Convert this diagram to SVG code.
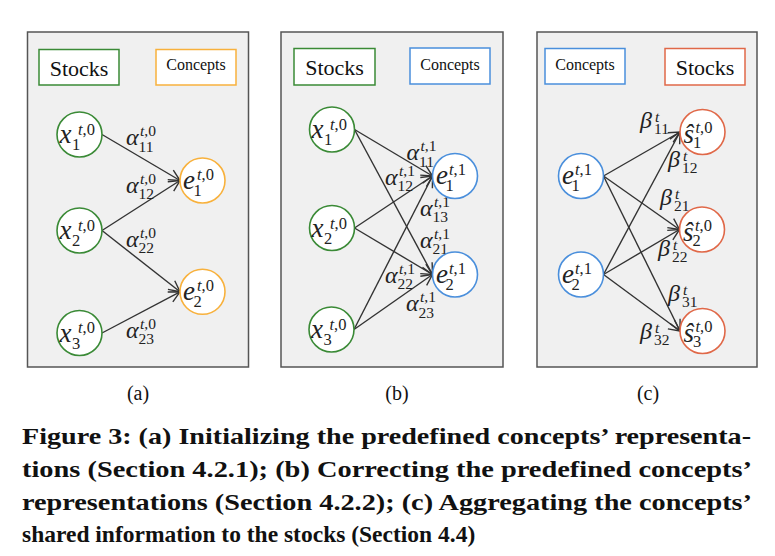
<svg xmlns="http://www.w3.org/2000/svg" width="775" height="556" viewBox="0 0 775 556">
<style>
.frame{fill:#f0f0f0;stroke:#555;stroke-width:1.5}
.box{fill:#fff;stroke-width:1.5}
.g{stroke:#3a8a36}.o{stroke:#f8b13c}.b{stroke:#4a8fdc}.r{stroke:#e06848}
.nd{fill:#fff;stroke-width:1.6}
.hd1{font-family:"Liberation Serif",serif;font-size:22px;fill:#111;text-anchor:middle}
.hd2{font-family:"Liberation Serif",serif;font-size:16px;fill:#111;text-anchor:middle}
.m{font-family:"Liberation Serif",serif;font-style:italic;font-size:27px;fill:#222}
.ms{font-size:16.5px}
.l{font-family:"Liberation Serif",serif;font-style:italic;font-size:24px;fill:#222}
.ls{font-size:15.5px}
.n{font-style:normal}
.e line{stroke:#333;stroke-width:1.4;marker-end:url(#ah)}
.cap{font-family:"Liberation Serif",serif;font-size:20px;fill:#111;text-anchor:middle}
.fig{font-family:"Liberation Serif",serif;font-weight:bold;font-size:23.5px;fill:#111}
</style>
<defs>
<marker id="ah" markerUnits="userSpaceOnUse" markerWidth="14" markerHeight="14" viewBox="-1 -7 14 14" refX="11" refY="0" orient="auto">
<path d="M0,-5.5 L11,0 L0,5.5" fill="none" stroke="#333" stroke-width="1.4"/>
</marker>
</defs>

<g id="panel-a">
<rect class="frame" x="27.5" y="32" width="221" height="335"/>
<g id="a-stocks-label"><rect class="box g" x="39" y="49.5" width="80" height="35.5"/><text class="hd1" x="79" y="75.5">Stocks</text></g>
<g id="a-concepts-label"><rect class="box o" x="156" y="49.5" width="80" height="35.5"/><text class="hd2" x="196" y="70">Concepts</text></g>
</g>
<g id="panel-b">
<rect class="frame" x="281" y="32" width="222" height="335"/>
<g id="b-stocks-label"><rect class="box g" x="294" y="48.5" width="81" height="36.5"/><text class="hd1" x="334.5" y="75">Stocks</text></g>
<g id="b-concepts-label"><rect class="box b" x="410" y="48" width="80" height="36"/><text class="hd2" x="450" y="69.5">Concepts</text></g>
</g>
<g id="panel-c">
<rect class="frame" x="537" y="32" width="220" height="335"/>
<g id="c-concepts-label"><rect class="box b" x="545" y="48.5" width="80" height="35.5"/><text class="hd2" x="585" y="69.5">Concepts</text></g>
<g id="c-stocks-label"><rect class="box r" x="665" y="48.5" width="80" height="36.5"/><text class="hd1" x="705" y="75">Stocks</text></g>
</g>

<g id="connectors" class="e">
<line x1="102" y1="134.5" x2="180" y2="180.5"/>
<line x1="102" y1="230.5" x2="180" y2="180.5"/>
<line x1="102" y1="230.5" x2="180" y2="291.8"/>
<line x1="102" y1="333" x2="180" y2="291.8"/>
<line x1="354.5" y1="129.5" x2="432.5" y2="176"/>
<line x1="354.5" y1="129.5" x2="432.5" y2="274.5"/>
<line x1="354.5" y1="228" x2="432.5" y2="176"/>
<line x1="354.5" y1="228" x2="432.5" y2="274.5"/>
<line x1="354" y1="329.5" x2="432.5" y2="176"/>
<line x1="354" y1="329.5" x2="432.5" y2="274.5"/>
<line x1="603.5" y1="176" x2="680" y2="132"/>
<line x1="603.5" y1="176" x2="679.5" y2="229.5"/>
<line x1="603.5" y1="176" x2="680" y2="331"/>
<line x1="603.5" y1="274.5" x2="680" y2="132"/>
<line x1="603.5" y1="274.5" x2="679.5" y2="229.5"/>
<line x1="603.5" y1="274.5" x2="680" y2="331"/>
</g>

<g id="edge-labels">
<text class="l" x="126" y="145">α<tspan class="ls" x="140" y="136">t<tspan class="n">,0</tspan></tspan><tspan class="ls n" x="138.5" y="151.5">11</tspan></text>
<text class="l" x="126" y="192.5">α<tspan class="ls" x="140" y="183.5">t<tspan class="n">,0</tspan></tspan><tspan class="ls n" x="138.5" y="199">12</tspan></text>
<text class="l" x="126" y="246.5">α<tspan class="ls" x="140" y="237.5">t<tspan class="n">,0</tspan></tspan><tspan class="ls n" x="138.5" y="253">22</tspan></text>
<text class="l" x="126" y="337.5">α<tspan class="ls" x="140" y="328.5">t<tspan class="n">,0</tspan></tspan><tspan class="ls n" x="138.5" y="344">23</tspan></text>

<text class="l" x="406.5" y="160">α<tspan class="ls" x="420.5" y="151">t<tspan class="n">,1</tspan></tspan><tspan class="ls n" x="419" y="166.5">11</tspan></text>
<text class="l" x="385" y="184.5">α<tspan class="ls" x="399" y="175.5">t<tspan class="n">,1</tspan></tspan><tspan class="ls n" x="397.5" y="191">12</tspan></text>
<text class="l" x="420" y="215.5">α<tspan class="ls" x="434" y="206.5">t<tspan class="n">,1</tspan></tspan><tspan class="ls n" x="432.5" y="222">13</tspan></text>
<text class="l" x="420" y="247.5">α<tspan class="ls" x="434" y="238.5">t<tspan class="n">,1</tspan></tspan><tspan class="ls n" x="432.5" y="254">21</tspan></text>
<text class="l" x="385" y="282.5">α<tspan class="ls" x="399" y="273.5">t<tspan class="n">,1</tspan></tspan><tspan class="ls n" x="397.5" y="289">22</tspan></text>
<text class="l" x="406" y="311">α<tspan class="ls" x="420" y="302">t<tspan class="n">,1</tspan></tspan><tspan class="ls n" x="418.5" y="317.5">23</tspan></text>

<text class="l" x="640" y="128">β<tspan class="ls" x="655" y="121.5">t</tspan><tspan class="ls n" x="654" y="133.5">11</tspan></text>
<text class="l" x="668" y="167">β<tspan class="ls" x="683" y="160.5">t</tspan><tspan class="ls n" x="682" y="172.5">12</tspan></text>
<text class="l" x="660" y="205">β<tspan class="ls" x="675" y="198.5">t</tspan><tspan class="ls n" x="674" y="210.5">21</tspan></text>
<text class="l" x="658" y="256">β<tspan class="ls" x="673" y="249.5">t</tspan><tspan class="ls n" x="672" y="261.5">22</tspan></text>
<text class="l" x="668" y="301">β<tspan class="ls" x="683" y="294.5">t</tspan><tspan class="ls n" x="682" y="306.5">31</tspan></text>
<text class="l" x="640" y="339">β<tspan class="ls" x="655" y="332.5">t</tspan><tspan class="ls n" x="654" y="344.5">32</tspan></text>
</g>

<g id="a-x1" transform="translate(79.5,134.5)"><circle class="nd g" r="22.5"/><text class="m" x="-20" y="8.5">x<tspan class="ms" x="-1.5" y="0">t<tspan class="n">,0</tspan></tspan><tspan class="ms n" x="-7.5" y="15.5">1</tspan></text></g>
<g id="a-x2" transform="translate(79.5,230.5)"><circle class="nd g" r="22.5"/><text class="m" x="-20" y="8.5">x<tspan class="ms" x="-1.5" y="0">t<tspan class="n">,0</tspan></tspan><tspan class="ms n" x="-7.5" y="15.5">2</tspan></text></g>
<g id="a-x3" transform="translate(79.5,333)"><circle class="nd g" r="22.5"/><text class="m" x="-20" y="8.5">x<tspan class="ms" x="-1.5" y="0">t<tspan class="n">,0</tspan></tspan><tspan class="ms n" x="-7.5" y="15.5">3</tspan></text></g>
<g id="a-e1" transform="translate(202.5,180.5)"><circle class="nd o" r="22.5"/><text class="m" x="-19.5" y="8">e<tspan class="ms" x="-5.5" y="-1">t<tspan class="n">,0</tspan></tspan><tspan class="ms n" x="-9" y="15.5">1</tspan></text></g>
<g id="a-e2" transform="translate(202.5,291.8)"><circle class="nd o" r="22.5"/><text class="m" x="-19.5" y="8">e<tspan class="ms" x="-5.5" y="-1">t<tspan class="n">,0</tspan></tspan><tspan class="ms n" x="-9" y="15.5">2</tspan></text></g>

<g id="b-x1" transform="translate(332,129.5)"><circle class="nd g" r="22.5"/><text class="m" x="-20.5" y="8.5">x<tspan class="ms" x="-2" y="0.5">t<tspan class="n">,0</tspan></tspan><tspan class="ms n" x="-8" y="15.5">1</tspan></text></g>
<g id="b-x2" transform="translate(332,228)"><circle class="nd g" r="22.5"/><text class="m" x="-20.5" y="8.5">x<tspan class="ms" x="-2" y="0.5">t<tspan class="n">,0</tspan></tspan><tspan class="ms n" x="-8" y="15.5">2</tspan></text></g>
<g id="b-x3" transform="translate(331.5,329.5)"><circle class="nd g" r="22.5"/><text class="m" x="-20.5" y="8.5">x<tspan class="ms" x="-2" y="0.5">t<tspan class="n">,0</tspan></tspan><tspan class="ms n" x="-8" y="15.5">3</tspan></text></g>
<g id="b-e1" transform="translate(455,176)"><circle class="nd b" r="22.5"/><text class="m" x="-19" y="8">e<tspan class="ms" x="-6" y="-1">t<tspan class="n">,1</tspan></tspan><tspan class="ms n" x="-9.5" y="15">1</tspan></text></g>
<g id="b-e2" transform="translate(455,274.5)"><circle class="nd b" r="22.5"/><text class="m" x="-19" y="8">e<tspan class="ms" x="-6" y="-1">t<tspan class="n">,1</tspan></tspan><tspan class="ms n" x="-9.5" y="15">2</tspan></text></g>

<g id="c-e1" transform="translate(581,176)"><circle class="nd b" r="22.5"/><text class="m" x="-19" y="8">e<tspan class="ms" x="-6" y="-1">t<tspan class="n">,1</tspan></tspan><tspan class="ms n" x="-9.5" y="15">1</tspan></text></g>
<g id="c-e2" transform="translate(581,274.5)"><circle class="nd b" r="22.5"/><text class="m" x="-19" y="8">e<tspan class="ms" x="-6" y="-1">t<tspan class="n">,1</tspan></tspan><tspan class="ms n" x="-9.5" y="15">2</tspan></text></g>
<g id="c-s1" transform="translate(702.5,132)"><circle class="nd r" r="22.5"/><text class="m" x="-19" y="11">ŝ<tspan class="ms" x="-7" y="1">t<tspan class="n">,0</tspan></tspan><tspan class="ms n" x="-9.5" y="16">1</tspan></text></g>
<g id="c-s2" transform="translate(702,229.5)"><circle class="nd r" r="22.5"/><text class="m" x="-19" y="11">ŝ<tspan class="ms" x="-7" y="1">t<tspan class="n">,0</tspan></tspan><tspan class="ms n" x="-9.5" y="16">2</tspan></text></g>
<g id="c-s3" transform="translate(702.5,331)"><circle class="nd r" r="22.5"/><text class="m" x="-19" y="11">ŝ<tspan class="ms" x="-7" y="1">t<tspan class="n">,0</tspan></tspan><tspan class="ms n" x="-9.5" y="16">3</tspan></text></g>

<g id="captions">
<text class="cap" x="138" y="400">(a)</text>
<text class="cap" x="397" y="400">(b)</text>
<text class="cap" x="648" y="400">(c)</text>
<text class="fig" x="22" y="444" textLength="729" lengthAdjust="spacingAndGlyphs">Figure 3: (a) Initializing the predefined concepts’ representa-</text>
<text class="fig" x="22" y="477" textLength="730" lengthAdjust="spacingAndGlyphs">tions (Section 4.2.1); (b) Correcting the predefined concepts’</text>
<text class="fig" x="22" y="510" textLength="730" lengthAdjust="spacingAndGlyphs">representations (Section 4.2.2); (c) Aggregating the concepts’</text>
<text class="fig" x="22" y="542">shared information to the stocks (Section 4.4)</text>
</g>
</svg>
